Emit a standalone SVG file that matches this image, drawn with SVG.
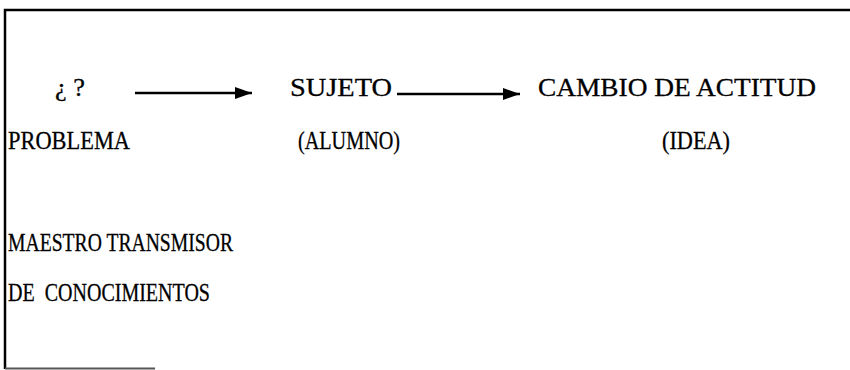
<svg xmlns="http://www.w3.org/2000/svg" width="850" height="370" viewBox="0 0 850 370">
<style>
text{font-family:"Liberation Serif","Times New Roman",serif;font-size:26px;fill:#000;stroke:#000;stroke-width:0.3;white-space:pre}
.frame{fill:none;stroke:#000;stroke-width:2.5}
.conn{stroke:#000;stroke-width:2.5;fill:none}
</style>
<defs>
<marker id="ah" markerUnits="userSpaceOnUse" markerWidth="18" markerHeight="14" refX="17" refY="7" orient="auto">
<path d="M0,1 L17,7 L0,13 Z" fill="#000"/>
</marker>
</defs>
<rect width="850" height="370" fill="#fff"/>
<path class="frame" d="M5,369 V10 H850"/>
<line x1="5" y1="368.5" x2="155" y2="368.5" stroke="#555" stroke-width="2"/>
<g id="q"><text x="55" y="96" textLength="30" lengthAdjust="spacingAndGlyphs">¿ ?</text></g>
<g id="sujeto"><text x="290" y="96" textLength="102" lengthAdjust="spacingAndGlyphs">SUJETO</text></g>
<g id="cambio"><text x="538" y="96" textLength="278" lengthAdjust="spacingAndGlyphs">CAMBIO DE ACTITUD</text></g>
<g id="problema"><text x="8" y="149" textLength="122" lengthAdjust="spacingAndGlyphs">PROBLEMA</text></g>
<g id="alumno"><text x="298" y="149" textLength="102" lengthAdjust="spacingAndGlyphs">(ALUMNO)</text></g>
<g id="idea"><text x="662" y="149" textLength="68" lengthAdjust="spacingAndGlyphs">(IDEA)</text></g>
<g id="maestro"><text x="8" y="251" textLength="225" lengthAdjust="spacingAndGlyphs">MAESTRO TRANSMISOR</text></g>
<g id="conoc"><text x="8" y="301" textLength="202" lengthAdjust="spacingAndGlyphs">DE  CONOCIMIENTOS</text></g>
<g id="connectors">
<line class="conn" x1="135" y1="93" x2="252" y2="93" marker-end="url(#ah)"/>
<line class="conn" x1="397" y1="94" x2="520" y2="94" marker-end="url(#ah)"/>
</g>
</svg>
